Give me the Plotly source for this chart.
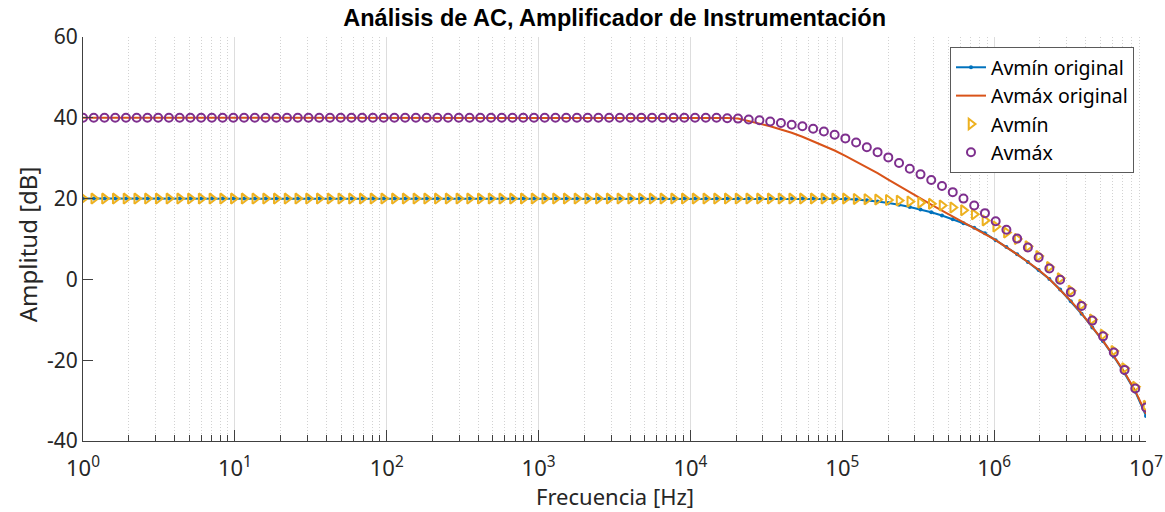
import numpy as np
import plotly.graph_objects as go

# Frequency sweep: 100 log-spaced points from 1 Hz to 10 MHz (marker spacing)
FREQ_HZ = np.logspace(0, 7, 100)

# Avmín original (simulated, blue line) [dB]
AVMIN_ORIG = [
    20.0, 20.0, 20.0, 20.0, 20.0, 20.0, 20.0, 20.0, 20.0, 20.0,
    20.0, 20.0, 20.0, 20.0, 20.0, 20.0, 20.0, 20.0, 20.0, 20.0,
    20.0, 20.0, 20.0, 20.0, 20.0, 20.0, 20.0, 20.0, 20.0, 20.0,
    20.0, 20.0, 20.0, 20.0, 20.0, 20.0, 20.0, 20.0, 20.0, 20.0,
    20.0, 20.0, 20.0, 20.0, 20.0, 20.0, 20.0, 20.0, 20.0, 20.0,
    20.0, 20.0, 20.0, 20.0, 20.0, 20.0, 20.0, 20.0, 20.0, 20.0,
    20.0, 20.0, 20.0, 20.0, 20.0, 20.0, 20.0, 20.0, 20.0, 20.0,
    20.0, 19.9, 19.8, 19.6, 19.3, 18.9, 18.5, 17.9, 17.3, 16.6,
    15.8, 14.9, 13.9, 12.8, 11.4, 9.7, 8.0, 6.2, 4.3, 2.3,
    0.1, -2.5, -5.4, -8.5, -11.9, -15.3, -19.1, -23.2, -27.8, -33.8,
]

# Avmáx original (simulated, orange line) [dB]
AVMAX_ORIG = [
    40.0, 40.0, 40.0, 40.0, 40.0, 40.0, 40.0, 40.0, 40.0, 40.0,
    40.0, 40.0, 40.0, 40.0, 40.0, 40.0, 40.0, 40.0, 40.0, 40.0,
    40.0, 40.0, 40.0, 40.0, 40.0, 40.0, 40.0, 40.0, 40.0, 40.0,
    40.0, 40.0, 40.0, 40.0, 40.0, 40.0, 40.0, 40.0, 40.0, 40.0,
    40.0, 40.0, 40.0, 40.0, 40.0, 40.0, 40.0, 40.0, 40.0, 40.0,
    40.0, 40.0, 40.0, 40.0, 40.0, 40.0, 40.0, 40.0, 40.0, 40.0,
    39.95, 39.8, 39.2, 38.6, 37.9, 37.1, 36.3, 35.3, 34.2, 33.1,
    31.9, 30.6, 29.2, 27.8, 26.3, 24.7, 23.1, 21.6, 20.0, 18.5,
    17.0, 15.6, 14.1, 12.7, 11.2, 9.7, 8.0, 6.2, 4.3, 2.4,
    0.1, -2.6, -5.3, -8.4, -11.8, -15.2, -19.0, -23.0, -27.6, -33.3,
]

# Avmín (markers, yellow triangles) [dB]
AVMIN_MARK = [
    20.0, 20.0, 20.0, 20.0, 20.0, 20.0, 20.0, 20.0, 20.0, 20.0,
    20.0, 20.0, 20.0, 20.0, 20.0, 20.0, 20.0, 20.0, 20.0, 20.0,
    20.0, 20.0, 20.0, 20.0, 20.0, 20.0, 20.0, 20.0, 20.0, 20.0,
    20.0, 20.0, 20.0, 20.0, 20.0, 20.0, 20.0, 20.0, 20.0, 20.0,
    20.0, 20.0, 20.0, 20.0, 20.0, 20.0, 20.0, 20.0, 20.0, 20.0,
    20.0, 20.0, 20.0, 20.0, 20.0, 20.0, 20.0, 20.0, 20.0, 20.0,
    20.0, 20.0, 20.0, 20.0, 20.0, 20.0, 20.0, 20.0, 20.0, 20.0,
    20.0, 20.0, 19.9, 19.85, 19.75, 19.65, 19.5, 19.3, 19.0, 18.7,
    18.3, 17.8, 17.1, 16.1, 14.6, 13.1, 11.6, 10.0, 8.2, 5.8,
    3.1, 0.3, -2.8, -6.3, -9.9, -13.7, -17.7, -22.0, -26.6, -31.3,
]

# Avmáx (markers, purple circles) [dB]
AVMAX_MARK = [
    40.0, 40.0, 40.0, 40.0, 40.0, 40.0, 40.0, 40.0, 40.0, 40.0,
    40.0, 40.0, 40.0, 40.0, 40.0, 40.0, 40.0, 40.0, 40.0, 40.0,
    40.0, 40.0, 40.0, 40.0, 40.0, 40.0, 40.0, 40.0, 40.0, 40.0,
    40.0, 40.0, 40.0, 40.0, 40.0, 40.0, 40.0, 40.0, 40.0, 40.0,
    40.0, 40.0, 40.0, 40.0, 40.0, 40.0, 40.0, 40.0, 40.0, 40.0,
    40.0, 40.0, 40.0, 40.0, 40.0, 40.0, 40.0, 40.0, 40.0, 40.0,
    39.9, 39.8, 39.6, 39.4, 39.1, 38.7, 38.3, 37.9, 37.3, 36.6,
    35.8, 34.9, 33.9, 32.7, 31.5, 30.2, 28.8, 27.4, 26.0, 24.6,
    23.1, 21.6, 20.0, 18.3, 16.4, 14.4, 12.3, 10.1, 7.9, 5.4,
    2.7, -0.1, -3.2, -6.6, -10.2, -14.1, -18.1, -22.4, -27.0, -31.7,
]

SERIES_NAMES = ["Avmín original", "Avmáx original", "Avmín", "Avmáx"]
TITLE = "Análisis de AC, Amplificador de Instrumentación"
X_LABEL = "Frecuencia [Hz]"
Y_LABEL = "Amplitud [dB]"
X_TICK_VALS = [1, 10, 100, 1e3, 1e4, 1e5, 1e6, 1e7]
X_TICK_TEXT = ["10<sup>0</sup>", "10<sup>1</sup>", "10<sup>2</sup>", "10<sup>3</sup>",
               "10<sup>4</sup>", "10<sup>5</sup>", "10<sup>6</sup>", "10<sup>7</sup>"]
Y_TICK_VALS = [-40, -20, 0, 20, 40, 60]
Y_TICK_TEXT = ["-40", "-20", "0", "20", "40", "60"]

BLUE, ORANGE, YELLOW, PURPLE = "#0072BD", "#D95319", "#EDB120", "#7E2F8E"
AX = "#404040"
TXT = "#262626"
FONT = "Noto Sans, Open Sans, sans-serif"

minor_vals = [m * 10 ** k for k in range(7) for m in range(2, 10)]

fig = go.Figure()
fig.add_trace(go.Scatter(x=FREQ_HZ, y=AVMIN_ORIG, name=SERIES_NAMES[0], mode="lines+markers",
                         line=dict(color=BLUE, width=2), marker=dict(color=BLUE, size=4)))
fig.add_trace(go.Scatter(x=FREQ_HZ, y=AVMAX_ORIG, name=SERIES_NAMES[1], mode="lines",
                         line=dict(color=ORANGE, width=2)))
fig.add_trace(go.Scatter(x=FREQ_HZ, y=AVMIN_MARK, name=SERIES_NAMES[2], mode="markers",
                         marker=dict(symbol="triangle-right-open", color=YELLOW, size=9,
                                     line=dict(width=2, color=YELLOW))))
fig.add_trace(go.Scatter(x=FREQ_HZ, y=AVMAX_MARK, name=SERIES_NAMES[3], mode="markers",
                         marker=dict(symbol="circle-open", color=PURPLE, size=8,
                                     line=dict(width=2, color=PURPLE))))

fig.update_layout(
    width=1165, height=512,
    margin=dict(l=83, r=19, t=37, b=71, autoexpand=False),
    paper_bgcolor="white", plot_bgcolor="white",
    font=dict(family=FONT, color=TXT),
    title=dict(text="<b>" + TITLE + "</b>", x=0.5276, xanchor="center",
               y=1 - 18 / 512, yanchor="middle", yref="container", automargin=False,
               font=dict(family="Liberation Sans, Arial, sans-serif", size=23.5, color="#000000")),
    showlegend=True,
    legend=dict(x=0.9887, y=0.975, xanchor="right", yanchor="top",
                bgcolor="white", bordercolor="#5a5a5a", borderwidth=1,
                font=dict(family=FONT, size=19.5, color="#000000"),
                tracegroupgap=0),
    xaxis=dict(type="log", range=[0, 7], showline=True, linecolor=AX, linewidth=1,
               mirror=False, zeroline=False, automargin=False,
               ticks="inside", ticklen=11, tickcolor=AX, tickwidth=1,
               tickmode="array", tickvals=X_TICK_VALS, ticktext=X_TICK_TEXT,
               ticklabelstandoff=8,
               tickfont=dict(size=22, color=TXT, family=FONT),
               showgrid=True, gridcolor="#dddddd", gridwidth=1,
               minor=dict(tickmode="array", tickvals=minor_vals, ticks="inside", ticklen=6,
                          tickcolor=AX, showgrid=True, gridcolor="#d2d2d2", griddash="1px,2px",
                          gridwidth=1)),
    yaxis=dict(range=[-40, 60], showline=True, linecolor=AX, linewidth=1, mirror=False,
               zeroline=False, showgrid=False, automargin=False,
               ticks="inside", ticklen=10, tickcolor=AX, tickwidth=1,
               tickmode="array", tickvals=Y_TICK_VALS, ticktext=Y_TICK_TEXT,
               tickfont=dict(size=21, color=TXT, family=FONT)),
)

fig.add_annotation(text=X_LABEL, xref="paper", yref="paper", x=0.5, y=-55 / 404,
                   xanchor="center", yanchor="middle", showarrow=False,
                   font=dict(family=FONT, size=22, color=TXT))
fig.add_annotation(text=Y_LABEL, xref="paper", yref="paper", x=-56 / 1063, y=0.487,
                   xanchor="center", yanchor="middle", textangle=-90, showarrow=False,
                   font=dict(family=FONT, size=24, color=TXT))

fig.write_html("out.html", post_script="document.body.style.margin='0px';",
               config={"displayModeBar": False})
